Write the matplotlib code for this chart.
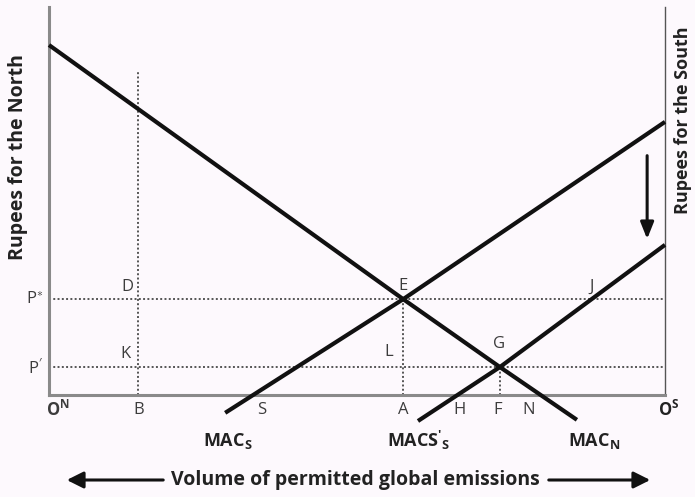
import matplotlib
matplotlib.use("Agg")
import matplotlib.pyplot as plt
from matplotlib.patches import FancyArrowPatch

plt.rcParams['font.family'] = ['Open Sans', 'DejaVu Sans']
plt.rcParams['mathtext.fontset'] = 'custom'
plt.rcParams['mathtext.rm'] = 'Open Sans'
plt.rcParams['mathtext.bf'] = 'Open Sans:bold'
plt.rcParams['mathtext.it'] = 'Open Sans:italic'

# ---- data (in diagram units: x 0..10 from O^N to O^S, y 0..10) ----
mac_n_x = [0.0, 5.75, 7.32, 8.57]
mac_n_y = [9.02, 2.47, 0.72, -0.64]
mac_s_x = [2.86, 5.75, 10.0]
mac_s_y = [-0.46, 2.47, 7.04]
macs2_x = [5.99, 7.32, 10.0]
macs2_y = [-0.67, 0.72, 3.87]

p_star = 2.47
p_prime = 0.72
x_B = 1.45
x_A = 5.75
x_F = 7.32
B_top = 8.38

tick_names = [r"$\mathbf{O^N}$", "B", "S", "A", "H", "F", "N"]
tick_pos = [0.15, 1.45, 3.46, 5.75, 6.66, 7.28, 7.78]
point_labels = ["D", "E", "J", "K", "L", "G"]
point_x = [1.28, 5.75, 8.80, 1.25, 5.52, 7.30]
point_y = [2.78, 2.82, 2.78, 1.05, 1.10, 1.32]
curve_labels = [r"$\mathbf{MAC_S}$", r"$\mathbf{MACS'_S}$", r"$\mathbf{MAC_N}$"]
curve_label_x = [2.90, 6.00, 8.85]

fig = plt.figure(figsize=(6.95, 4.97), dpi=100)
bg = '#fdf9fd'
fig.patch.set_facecolor(bg)
ax = fig.add_axes([49/695, 102/497, 616/695, 388/497])
ax.set_facecolor(bg)
ax.set_xlim(0, 10)
ax.set_ylim(0, 10)
ax.set_xticks([])
ax.set_yticks([])
ax.spines['top'].set_visible(False)
for s in ['left', 'bottom']:
    ax.spines[s].set_color('#8a8a8a')
    ax.spines[s].set_linewidth(2.2)
ax.spines['right'].set_color('#555555')
ax.spines['right'].set_linewidth(1.0)

dot = dict(color='#555555', linestyle=(0, (1, 1.2)), linewidth=1.4, clip_on=False)
ax.plot([0, 10], [p_star, p_star], **dot)
ax.plot([0, 10], [p_prime, p_prime], **dot)
ax.plot([x_B, x_B], [0, B_top], **dot)
ax.plot([x_A, x_A], [0, p_star], **dot)
ax.plot([x_F, x_F], [0, p_prime], **dot)

lw = 3.0
for xs, ys in [(mac_n_x, mac_n_y), (mac_s_x, mac_s_y), (macs2_x, macs2_y)]:
    ax.plot(xs, ys, color='#111111', linewidth=lw, clip_on=False,
            solid_capstyle='butt', zorder=5)

# shift arrow
ax.annotate('', xy=(9.71, 3.95), xytext=(9.71, 6.24),
            arrowprops=dict(arrowstyle='-|>,head_length=1.0,head_width=0.4',
                            color='#111111', lw=2.2))

tc = '#3c3c3c'
for name, xp in zip(tick_names, tick_pos):
    ax.text(xp, -0.38, name, ha='center', va='center', fontsize=12, color=tc)
ax.text(9.88, -0.38, r"$\mathbf{O^S}$", ha='left', va='center', fontsize=12, color='#222222')
ax.text(-0.1, p_star, r"P$^{\ast}$", ha='right', va='center', fontsize=12, color=tc)
ax.text(-0.1, p_prime, r"P$^{\prime}$", ha='right', va='center', fontsize=12, color=tc)
for t, xp, yp in zip(point_labels, point_x, point_y):
    ax.text(xp, yp, t, ha='center', va='center', fontsize=12, color=tc)
for t, xp in zip(curve_labels, curve_label_x):
    ax.text(xp, -1.18, t, ha='center', va='center', fontsize=13, color='#222222')

fig.text(18/695, 1 - 157/497, "Rupees for the North", rotation=90, ha='center',
         va='center', fontsize=14, fontweight='bold', color='#222222')
fig.text(683/695, 1 - 26/497, "Rupees for the South", rotation=90, ha='center',
         va='top', fontsize=13, fontweight='bold', color='#222222')
fig.text(355/695, 1 - 480/497, "Volume of permitted global emissions", ha='center',
         va='center', fontsize=14, fontweight='bold', color='#222222')
fig.add_artist(FancyArrowPatch((166/695, 1 - 480/497), (64/695, 1 - 480/497),
               transform=fig.transFigure, arrowstyle='-|>,head_length=10,head_width=5',
               color='#111111', lw=2.2))
fig.add_artist(FancyArrowPatch((546/695, 1 - 480/497), (653/695, 1 - 480/497),
               transform=fig.transFigure, arrowstyle='-|>,head_length=10,head_width=5',
               color='#111111', lw=2.2))

fig.savefig('out.png', dpi=100, facecolor=bg)
